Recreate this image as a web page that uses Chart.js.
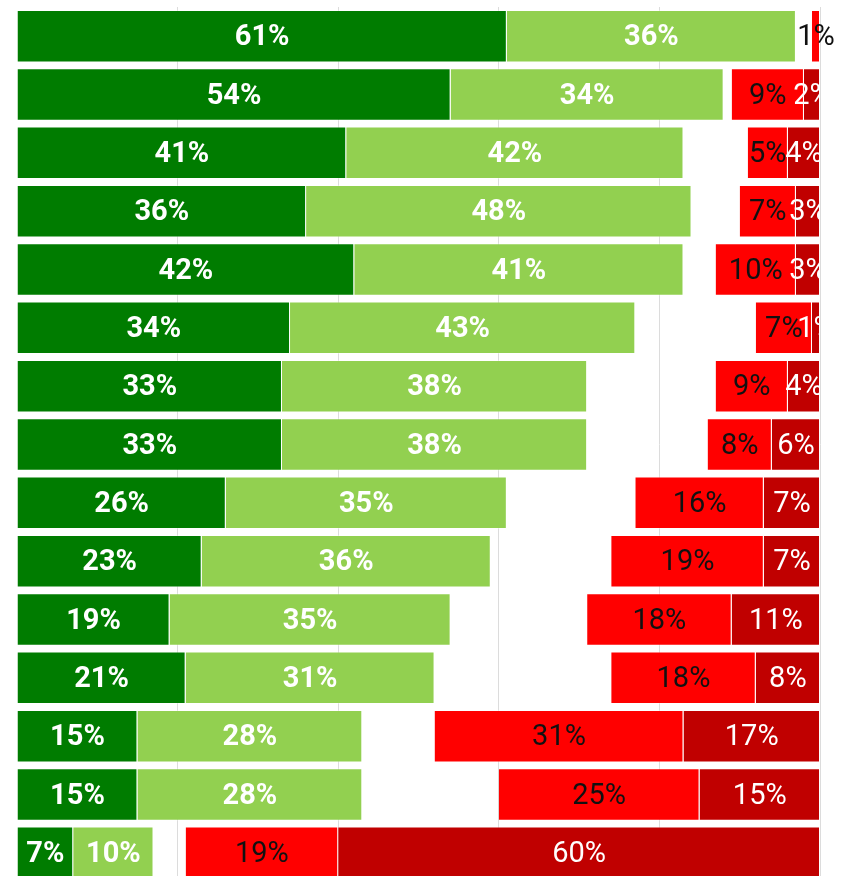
<!DOCTYPE html>
<html>
<head>
<meta charset="utf-8">
<script src="https://cdn.jsdelivr.net/npm/chart.js@4"></script>
<style>
  html, body { margin: 0; padding: 0; background: #fff; overflow: hidden; }
  #wrap { width: 846px; height: 882px; }
</style>
</head>
<body>
<div id="wrap"><canvas id="bars"></canvas></div>
<script>
const rows = ['1', '2', '3', '4', '5', '6', '7', '8', '9', '10', '11', '12', '13', '14', '15'];

// shares per row, in percent
const strongYes = [61, 54, 41, 36, 42, 34, 33, 33, 26, 23, 19, 21, 15, 15, 7];
const yes       = [36, 34, 42, 48, 41, 43, 38, 38, 35, 36, 35, 31, 28, 28, 10];
const no        = [1, 9, 5, 7, 10, 7, 9, 8, 16, 19, 18, 18, 31, 25, 19];
const strongNo  = [0, 2, 4, 3, 3, 1, 4, 6, 7, 7, 11, 8, 17, 15, 60];

const xTicks = [0, 20, 40, 60, 80, 100];

// empty space so the red part lines up on the right edge
const filler = rows.map((_, i) => 100 - strongYes[i] - yes[i] - no[i] - strongNo[i]);

const edge = 'rgba(255,255,255,0.35)';

const data = {
  labels: rows,
  datasets: [
    { label: 'strongYes', data: strongYes, backgroundColor: '#007c00', borderColor: edge, borderWidth: 1,
      lbl: { color: '#fff', weight: 'bold' } },
    { label: 'yes', data: yes, backgroundColor: '#92d050', borderColor: edge, borderWidth: 1,
      lbl: { color: '#fff', weight: 'bold' } },
    { label: 'gap', data: filler, backgroundColor: 'transparent', borderWidth: 0 },
    { label: 'no', data: no, backgroundColor: '#ff0000', borderColor: edge, borderWidth: 1,
      lbl: { color: '#111', weight: 'normal' } },
    { label: 'strongNo', data: strongNo, backgroundColor: '#c00000', borderColor: edge, borderWidth: 1,
      lbl: { color: '#fff', weight: 'normal', clip: true } }
  ]
};

// percent text in the middle of every bar
const barLabels = {
  id: 'barLabels',
  afterDatasetsDraw(chart) {
    const ctx = chart.ctx;
    const area = chart.chartArea;
    chart.data.datasets.forEach((ds, di) => {
      if (!ds.lbl) return;
      const meta = chart.getDatasetMeta(di);
      ctx.save();
      if (ds.lbl.clip) {
        ctx.beginPath();
        ctx.rect(0, 0, area.right, chart.height);
        ctx.clip();
      }
      ctx.font = ds.lbl.weight + ' 29px Roboto';
      ctx.fillStyle = ds.lbl.color;
      ctx.textAlign = 'center';
      ctx.textBaseline = 'middle';
      meta.data.forEach((bar, i) => {
        const v = ds.data[i];
        if (!v) return;
        ctx.fillText(v + '%', (bar.x + bar.base) / 2, bar.y + 2);
      });
      ctx.restore();
    });
  }
};

new Chart(document.getElementById('bars'), {
  type: 'bar',
  data: data,
  plugins: [barLabels],
  options: {
    indexAxis: 'y',
    responsive: true,
    maintainAspectRatio: false,
    animation: false,
    layout: { padding: { left: 17, right: 26, top: 7, bottom: 0 } },
    plugins: { legend: { display: false }, tooltip: { enabled: false } },
    datasets: { bar: { categoryPercentage: 1, barPercentage: 0.9 } },
    scales: {
      x: {
        stacked: true,
        min: 0,
        max: 100,
        afterBuildTicks: axis => { axis.ticks = xTicks.map(v => ({ value: v })); },
        ticks: { display: false },
        border: { display: false },
        grid: {
          color: c => c.tick && c.tick.value === 0 ? 'transparent' : '#dcdcdc',
          drawTicks: false
        }
      },
      y: {
        stacked: true,
        display: false
      }
    }
  }
});
</script>
</body>
</html>
